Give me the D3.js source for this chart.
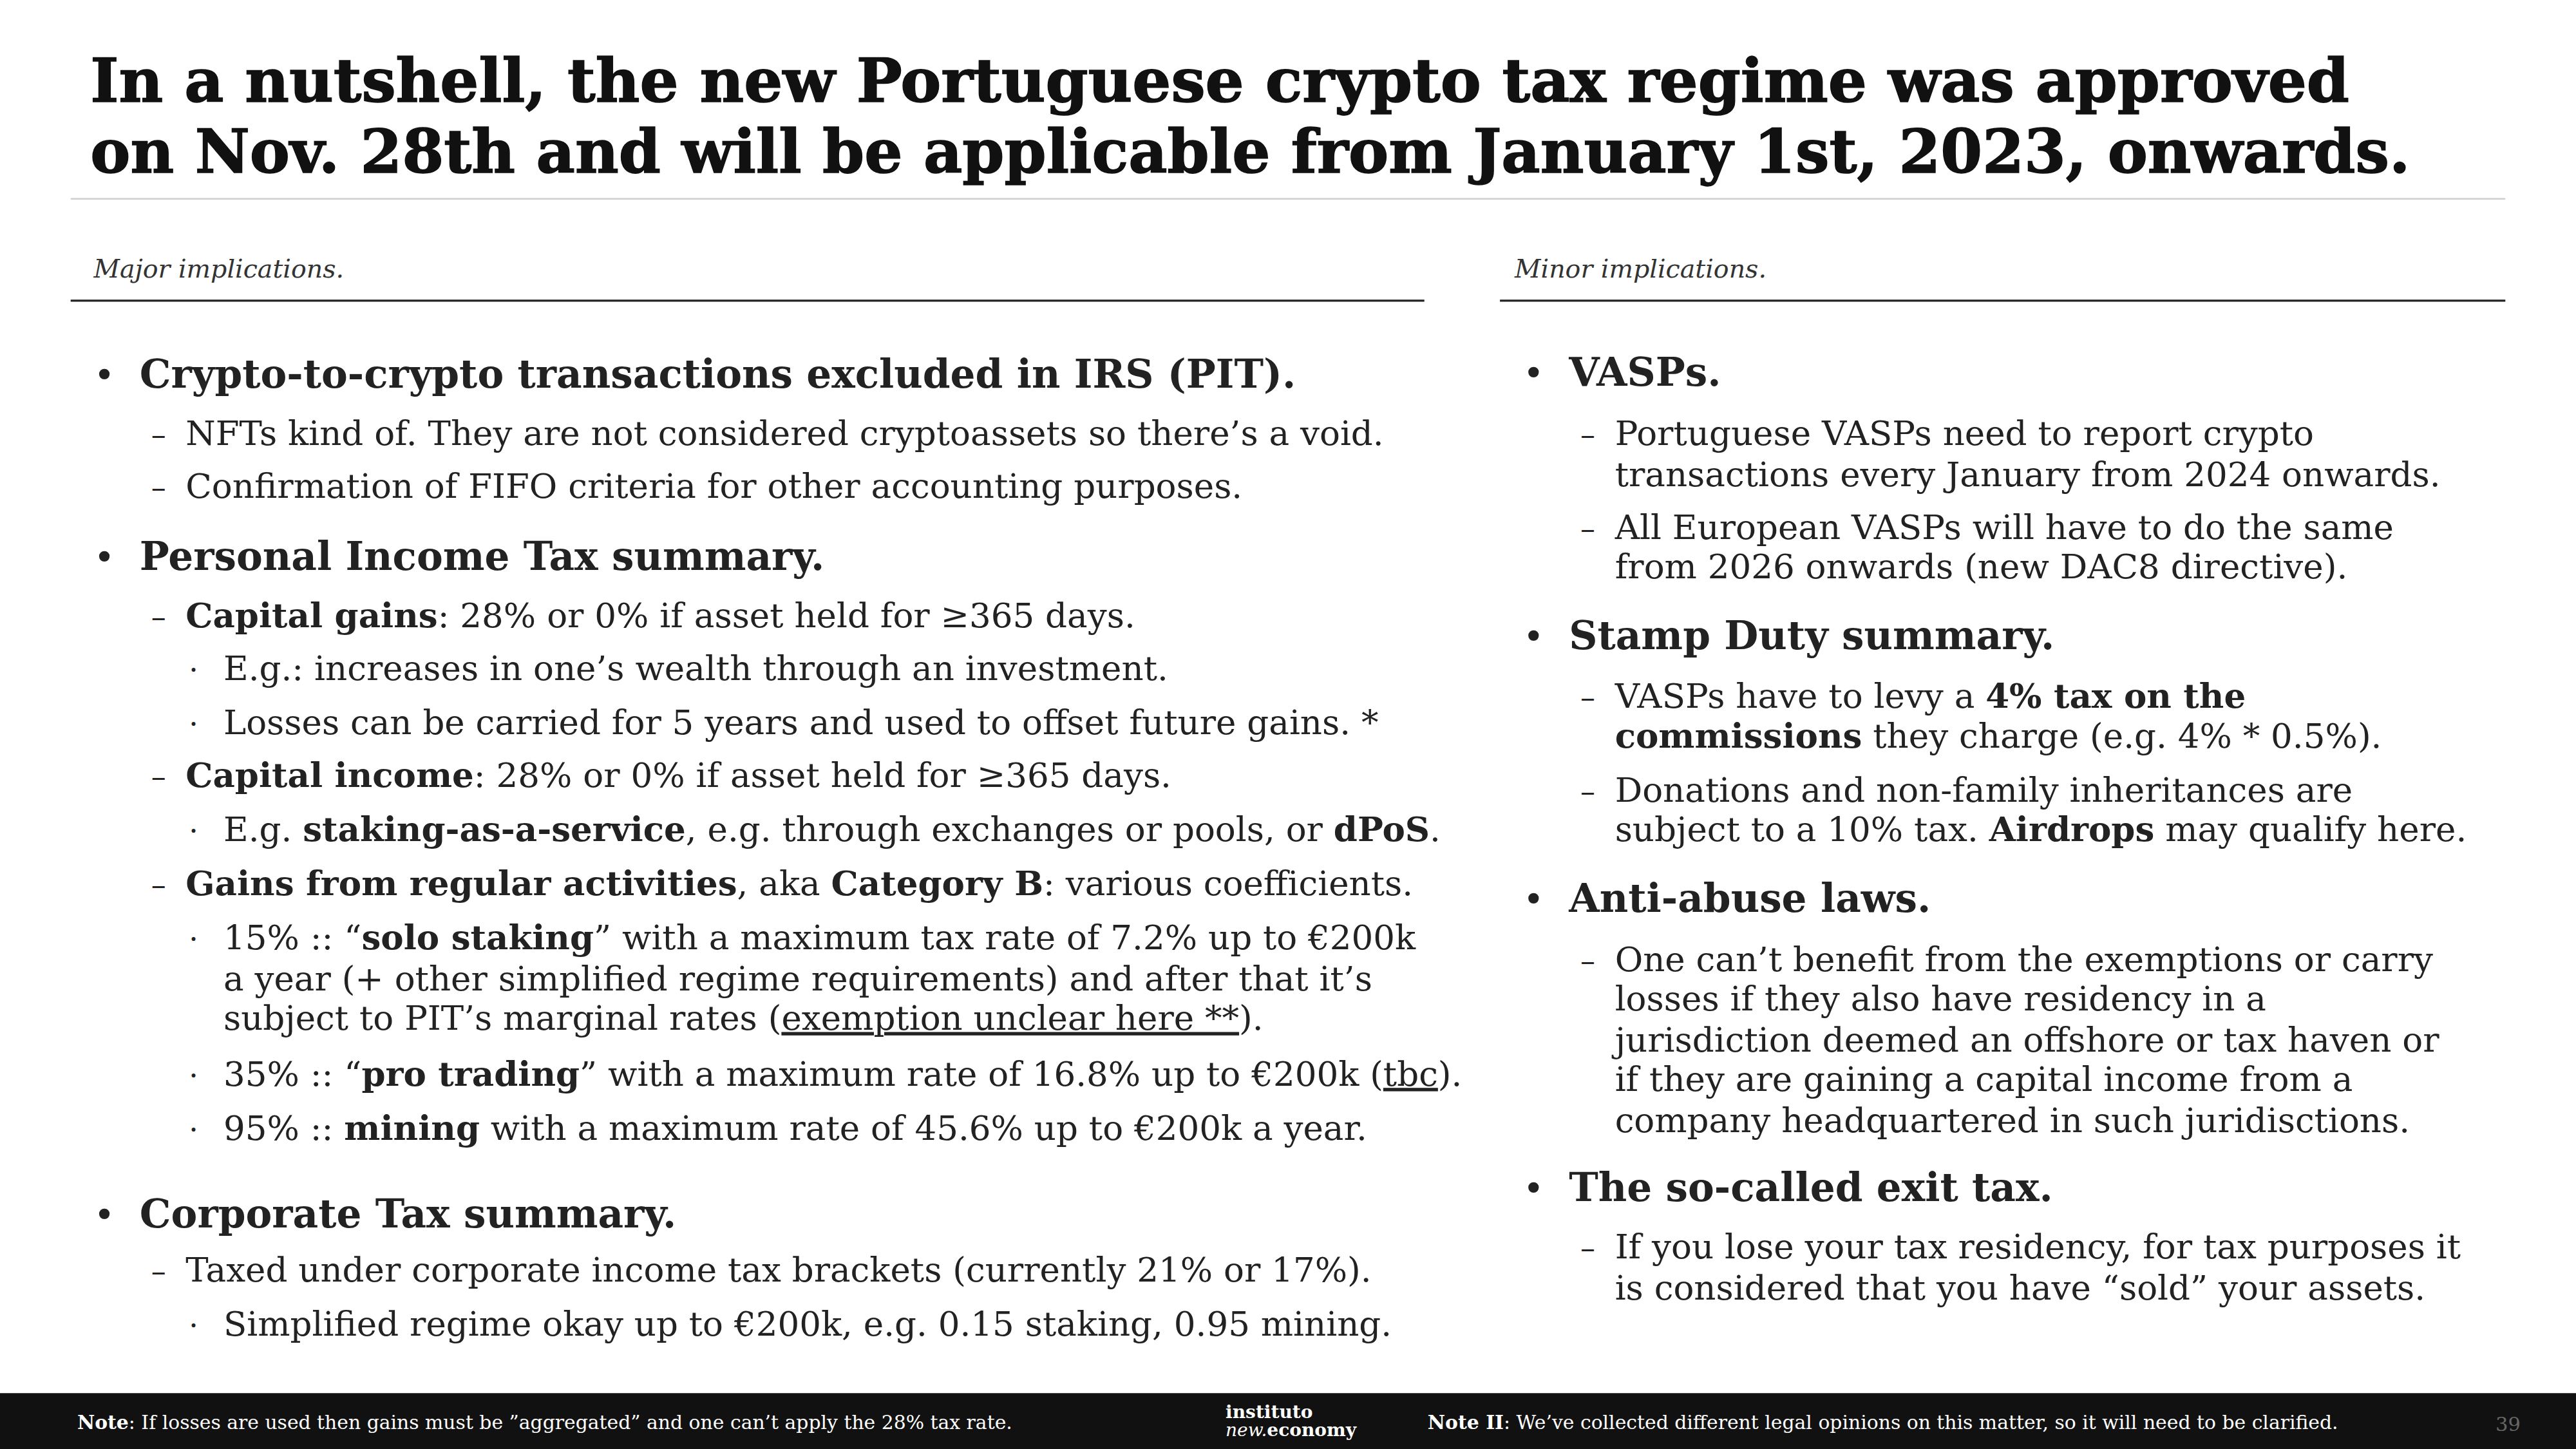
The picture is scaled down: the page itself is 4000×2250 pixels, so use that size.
<!DOCTYPE html>
<html><head><meta charset="utf-8">
<script src="https://cdn.jsdelivr.net/npm/d3@7"></script>
<style>body{margin:0;background:#fff}svg{display:block}</style>
</head><body>
<script>
// slide content, in 1568x882 design units
const titleLines = [
  "In a nutshell, the new Portuguese crypto tax regime was approved",
  "on Nov. 28th and will be applicable from January 1st, 2023, onwards."
];
const headers = [["Major implications.", 57], ["Minor implications.", 922]];
// [kind, y, text]   kind: b = bullet, d = dash, p = dot, c = continuation
const leftItems = [
  ["b", 229, "**Crypto-to-crypto transactions excluded in IRS (PIT).**"],
  ["d", 264, "NFTs kind of. They are not considered cryptoassets so there’s a void."],
  ["d", 296, "Confirmation of FIFO criteria for other accounting purposes."],
  ["b", 340, "**Personal Income Tax summary.**"],
  ["d", 375, "**Capital gains**: 28% or 0% if asset held for ≥365 days."],
  ["p", 407, "E.g.: increases in one’s wealth through an investment."],
  ["p", 440, "Losses can be carried for 5 years and used to offset future gains. *"],
  ["d", 472, "**Capital income**: 28% or 0% if asset held for ≥365 days."],
  ["p", 505, "E.g. **staking-as-a-service**, e.g. through exchanges or pools, or **dPoS**."],
  ["d", 538, "**Gains from regular activities**, aka **Category B**: various coefficients."],
  ["p", 571, "15% :: “**solo staking**” with a maximum tax rate of 7.2% up to €200k"],
  ["pc", 596, "a year (+ other simplified regime requirements) and after that it’s"],
  ["pc", 620, "subject to PIT’s marginal rates (__exemption unclear here **__)."],
  ["p", 654, "35% :: “**pro trading**” with a maximum rate of 16.8% up to €200k (__tbc__)."],
  ["p", 687, "95% :: **mining** with a maximum rate of 45.6% up to €200k a year."],
  ["b", 740, "**Corporate Tax summary.**"],
  ["d", 773, "Taxed under corporate income tax brackets (currently 21% or 17%)."],
  ["p", 806, "Simplified regime okay up to €200k, e.g. 0.15 staking, 0.95 mining."]
];
const rightItems = [
  ["b", 228, "**VASPs.**"],
  ["d", 264, "Portuguese VASPs need to report crypto"],
  ["dc", 289, "transactions every January from 2024 onwards."],
  ["d", 321, "All European VASPs will have to do the same"],
  ["dc", 345, "from 2026 onwards (new DAC8 directive)."],
  ["b", 388, "**Stamp Duty summary.**"],
  ["d", 424, "VASPs have to levy a **4% tax on the**"],
  ["dc", 448, "**commissions** they charge (e.g. 4% * 0.5%)."],
  ["d", 481, "Donations and non-family inheritances are"],
  ["dc", 505, "subject to a 10% tax. **Airdrops** may qualify here."],
  ["b", 548, "**Anti-abuse laws.**"],
  ["d", 584, "One can’t benefit from the exemptions or carry"],
  ["dc", 608, "losses if they also have residency in a"],
  ["dc", 633, "jurisdiction deemed an offshore or tax haven or"],
  ["dc", 657, "if they are gaining a capital income from a"],
  ["dc", 682, "company headquartered in such juridisctions."],
  ["b", 724, "**The so-called exit tax.**"],
  ["d", 759, "If you lose your tax residency, for tax purposes it"],
  ["dc", 784, "is considered that  you have “sold” your assets."]
];
const footNotes = [
  [47, "**Note**: If losses are used then gains must be ”aggregated” and one can’t apply the 28% tax rate."],
  [869, "**Note II**: We’ve collected different legal opinions on this matter, so it will need to be clarified."]
];
const pageNo = "39";

const W = 1568, H = 882;
const svg = d3.select("body").append("svg")
  .attr("width", 4000).attr("height", 2250)
  .attr("viewBox", `0 0 ${W} ${H}`)
  .style("font-family", "'DejaVu Serif', serif")
  .style("white-space", "pre");

// parse **bold** and __underline__ markers into segments
function parse(s) {
  const out = []; let bold = false, und = false, buf = "";
  for (let i = 0; i < s.length; i++) {
    const two = s.substr(i, 2);
    if (two === "**" && !(und && s.substr(i, 4) === "**__")) { if (buf) out.push({t: buf, bold, und}); buf = ""; bold = !bold; i++; continue; }
    if (two === "__") { if (buf) out.push({t: buf, bold, und}); buf = ""; und = !und; i++; continue; }
    buf += s[i];
  }
  if (buf) out.push({t: buf, bold, und});
  return out;
}

// title
svg.selectAll("text.title").data(titleLines).join("text")
  .attr("class", "title").attr("x", 55).attr("y", (d, i) => 62 + i * 43)
  .attr("font-size", 37).attr("font-weight", "bold").attr("fill", "#111")
  .attr("stroke", "#111").attr("stroke-width", 0.6)
  .attr("textLength", (d, i) => i ? 1412 : 1375).attr("lengthAdjust", "spacingAndGlyphs")
  .text(d => d);

svg.append("line").attr("x1", 43).attr("x2", 1525).attr("y1", 121).attr("y2", 121)
  .attr("stroke", "#d0d0d0").attr("stroke-width", 1);

svg.selectAll("text.hdr").data(headers).join("text")
  .attr("class", "hdr").attr("x", d => d[1]).attr("y", 169)
  .attr("font-size", 15.5).attr("font-style", "italic").attr("fill", "#333").text(d => d[0]);
[[43, 867], [913, 1525]].forEach(([a, b]) =>
  svg.append("line").attr("x1", a).attr("x2", b).attr("y1", 183).attr("y2", 183)
    .attr("stroke", "#222").attr("stroke-width", 1.3));

function column(items, x0) {
  const pos = {b: [x0, x0 + 28], d: [x0 + 35, x0 + 56], p: [x0 + 58, x0 + 79]};
  items.forEach(([k, y, s]) => {
    const base = k[0], p = pos[base];
    const size = base === "b" ? 24 : 20.8;
    if (k.length === 1) {
      svg.append("text").attr("x", p[0]).attr("y", y + 7).attr("font-size", base === "b" ? 22 : 18)
        .attr("fill", "#222").text(base === "b" ? "•" : base === "d" ? "–" : "·");
    }
    const t = svg.append("text").attr("x", p[1]).attr("y", y + 7)
      .attr("font-size", size).attr("fill", "#222");
    t.selectAll("tspan").data(parse(s)).join("tspan")
      .attr("font-weight", d => d.bold ? "bold" : null)
      .attr("text-decoration", d => d.und ? "underline" : null)
      .text(d => d.t);
  });
}
column(leftItems, 57);
column(rightItems, 927);

// footer
svg.append("rect").attr("x", 0).attr("y", 848).attr("width", W).attr("height", 34).attr("fill", "#111");
footNotes.forEach(([x, s]) => {
  const t = svg.append("text").attr("x", x).attr("y", 870).attr("font-size", 11.7).attr("fill", "#fff");
  t.selectAll("tspan").data(parse(s)).join("tspan")
    .attr("font-weight", d => d.bold ? "bold" : null).text(d => d.t);
});
svg.append("text").attr("x", 746).attr("y", 863).attr("font-size", 11).attr("font-weight", "bold")
  .attr("fill", "#fff").text("instituto");
const lg = svg.append("text").attr("x", 746).attr("y", 874).attr("font-size", 11).attr("fill", "#fff");
lg.append("tspan").attr("font-style", "italic").text("new.");
lg.append("tspan").attr("font-weight", "bold").text("economy");
svg.append("text").attr("x", 1519).attr("y", 871).attr("font-size", 12).attr("fill", "#666").text(pageNo);
</script>
</body></html>
